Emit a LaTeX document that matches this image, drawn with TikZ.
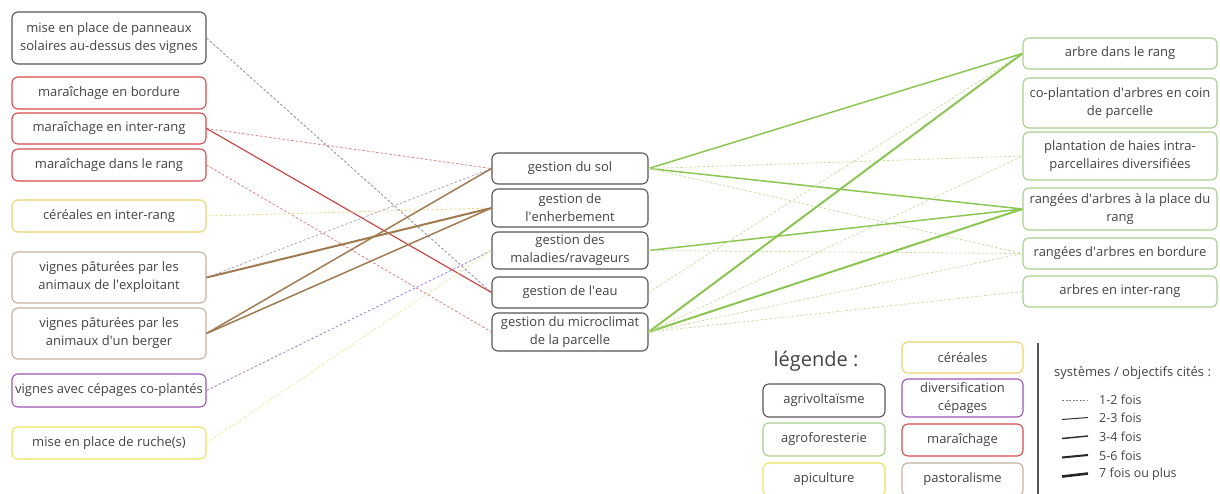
\documentclass[tikz,border=0pt]{standalone}
\usepackage{fontspec}
\setmainfont{Open Sans}
\newcommand{\apo}{\textquotesingle}
\definecolor{txt}{HTML}{444444}
\definecolor{cagri}{HTML}{555555}
\definecolor{cagro}{HTML}{A8CF8A}
\definecolor{capi}{HTML}{EDE35C}
\definecolor{ccer}{HTML}{EBD36E}
\definecolor{cdiv}{HTML}{9B55B0}
\definecolor{cmar}{HTML}{D8494C}
\definecolor{cpas}{HTML}{C2B29C}
\definecolor{lred}{HTML}{CC3B3B}
\definecolor{lredd}{HTML}{D98080}
\definecolor{lbrown}{HTML}{A07A50}
\definecolor{lgreen}{HTML}{8CC652}
\definecolor{lgreend}{HTML}{CADDA6}
\definecolor{lgray}{HTML}{8A8AA5}
\definecolor{lyel}{HTML}{EAD98A}
\definecolor{lyel2}{HTML}{E4EA9C}
\definecolor{lpurp}{HTML}{A57CC4}
\definecolor{llav}{HTML}{AFA3C8}
\begin{document}
\begin{tikzpicture}[x=1pt,y=-1pt,
  box/.style={draw, rounded corners=6pt, line width=1.1pt, fill=white, text=txt,
    align=center, inner sep=0pt, font=\fontsize{13}{18}\selectfont},
  lbox/.style={box, minimum width=194pt},
  mbox/.style={box, minimum width=156pt, draw=cagri},
  rbox/.style={box, minimum width=194pt, draw=cagro},
  legbox/.style={box, minimum width=122pt},
  dashl/.style={line width=0.8pt, dash pattern=on 2.5pt off 2pt},
  wa/.style={line width=1.1pt},
  wb/.style={line width=1.5pt},
  wc/.style={line width=2pt},
  legtxt/.style={anchor=west, text=txt, inner sep=0pt, font=\fontsize{12.5}{15}\selectfont}
]
\useasboundingbox (0,0) rectangle (1220,493);

% left column
\node[lbox, draw=cagri, minimum height=52pt] (L1) at (109,38) {mise en place de panneaux\\solaires au-dessus des vignes};
\node[lbox, draw=cmar, minimum height=32pt] (L2) at (109,93) {maraîchage en bordure};
\node[lbox, draw=cmar, minimum height=31pt] (L3) at (109,128.5) {maraîchage en inter-rang};
\node[lbox, draw=cmar, minimum height=32pt] (L4) at (109,165) {maraîchage dans le rang};
\node[lbox, draw=ccer, minimum height=32pt] (L5) at (109,216) {céréales en inter-rang};
\node[lbox, draw=cpas, minimum height=51pt] (L6) at (109,277.5) {vignes pâturées par les\\animaux de l\apo exploitant};
\node[lbox, draw=cpas, minimum height=51pt] (L7) at (109,333.5) {vignes pâturées par les\\animaux d\apo un berger};
\node[lbox, draw=cdiv, minimum height=33pt] (L8) at (109,390.5) {vignes avec cépages co-plantés};
\node[lbox, draw=capi, minimum height=32pt] (L9) at (109,443) {mise en place de ruche(s)};

% middle column
\node[mbox, minimum height=31pt] (M1) at (570,168.5) {gestion du sol};
\node[mbox, minimum height=38pt] (M2) at (570,208) {gestion de\\l\apo enherbement};
\node[mbox, minimum height=37pt] (M3) at (570,250.5) {gestion des\\maladies/ravageurs};
\node[mbox, minimum height=31pt] (M4) at (570,292.5) {gestion de l\apo eau};
\node[mbox, minimum height=38pt] (M5) at (570,332) {gestion du microclimat\\de la parcelle};

% right column
\node[rbox, minimum height=31pt] (R1) at (1120,53.5) {arbre dans le rang};
\node[rbox, minimum height=50pt] (R2) at (1120,103) {co-plantation d\apo arbres en coin\\de parcelle};
\node[rbox, minimum height=48pt] (R3) at (1120,156) {plantation de haies intra-\\parcellaires diversifiées};
\node[rbox, minimum height=42pt] (R4) at (1120,209) {rangées d\apo arbres à la place du\\rang};
\node[rbox, minimum height=31pt] (R5) at (1120,253.5) {rangées d\apo arbres en bordure};
\node[rbox, minimum height=31pt] (R6) at (1120,291.5) {arbres en inter-rang};

% connectors left -> middle
\draw[dashl, lgray] (L1.east) -- (M4.west);
\draw[dashl, lredd] (L3.east) -- (M1.west);
\draw[wa, lred] (L3.east) -- (M4.west);
\draw[dashl, lredd] (L4.east) -- (M5.west);
\draw[dashl, lyel] (L5.east) -- (M2.west);
\draw[dashl, llav] (L6.east) -- (M1.west);
\draw[wc, lbrown] (L6.east) -- (M2.west);
\draw[wb, lbrown] (L7.east) -- (M1.west);
\draw[wb, lbrown] (L7.east) -- (M2.west);
\draw[dashl, lpurp] (L8.east) -- (M3.west);
\draw[dashl, lyel2] (L9.east) -- (M3.west);

% connectors middle -> right
\draw[wb, lgreen] (M1.east) -- (R1.west);
\draw[wb, lgreen] (M1.east) -- (R4.west);
\draw[dashl, lgreend] (M1.east) -- (R3.west);
\draw[dashl, lgreend] (M1.east) -- (R5.west);
\draw[wb, lgreen] (M3.east) -- (R4.west);
\draw[dashl, lgreend] (M3.east) -- (R5.west);
\draw[dashl, lgreend] (M4.east) -- (R1.west);
\draw[wc, lgreen] (M5.east) -- (R1.west);
\draw[wc, lgreen] (M5.east) -- (R4.west);
\draw[dashl, lgreend] (M5.east) -- (R3.west);
\draw[dashl, lgreend] (M5.east) -- (R5.west);
\draw[dashl, lgreend] (M5.east) -- (R6.west);

% legend
\node[anchor=center, text=txt, inner sep=0pt, font=\fontsize{20}{22}\selectfont] (legt) at (816,361) {légende :};
\node[legbox, draw=cagri, minimum height=33pt] (Gagri) at (824,400.5) {agrivoltaïsme};
\node[legbox, draw=cagro, minimum height=33pt] (Gagro) at (824,439.5) {agroforesterie};
\node[legbox, draw=capi, minimum height=33pt] (Gapi) at (824,479.5) {apiculture};
\node[legbox, draw=ccer, minimum width=121pt, minimum height=31pt] (Gcer) at (962.5,357.5) {céréales};
\node[legbox, draw=cdiv, minimum width=121pt, minimum height=38pt] (Gdiv) at (962.5,398) {diversification\\cépages};
\node[legbox, draw=cmar, minimum width=121pt, minimum height=32pt] (Gmar) at (962.5,440) {maraîchage};
\node[legbox, draw=cpas, minimum width=121pt, minimum height=33pt] (Gpas) at (962.5,479.5) {pastoralisme};

\coordinate (vtop) at (1038,343);
\coordinate (vbot) at (1038,495);
\draw[line width=1.2pt, cagri] (vtop) -- (vbot);

\node[legtxt, font=\fontsize{13}{15}\selectfont] (syst) at (1054,373) {systèmes / objectifs cités :};

\coordinate (a1) at (1062,400); \coordinate (b1) at (1088,400);
\coordinate (a2) at (1062,419.5); \coordinate (b2) at (1088,417.5);
\coordinate (a3) at (1062,438.5); \coordinate (b3) at (1088,436);
\coordinate (a4) at (1062,457.5); \coordinate (b4) at (1088,455);
\coordinate (a5) at (1062,476.5); \coordinate (b5) at (1088,473.5);
\draw[line width=0.6pt, gray, dash pattern=on 2pt off 1.5pt] (a1) -- (b1);
\draw[line width=1.0pt, black!80] (a2) -- (b2);
\draw[line width=1.5pt, black!80] (a3) -- (b3);
\draw[line width=2.0pt, black!85] (a4) -- (b4);
\draw[line width=2.6pt, black!85] (a5) -- (b5);
\node[legtxt] (t1) at (1099,400) {1-2 fois};
\node[legtxt] (t2) at (1099,418) {2-3 fois};
\node[legtxt] (t3) at (1099,437) {3-4 fois};
\node[legtxt] (t4) at (1099,456) {5-6 fois};
\node[legtxt] (t5) at (1099,474.5) {7 fois ou plus};
\end{tikzpicture}
\end{document}
